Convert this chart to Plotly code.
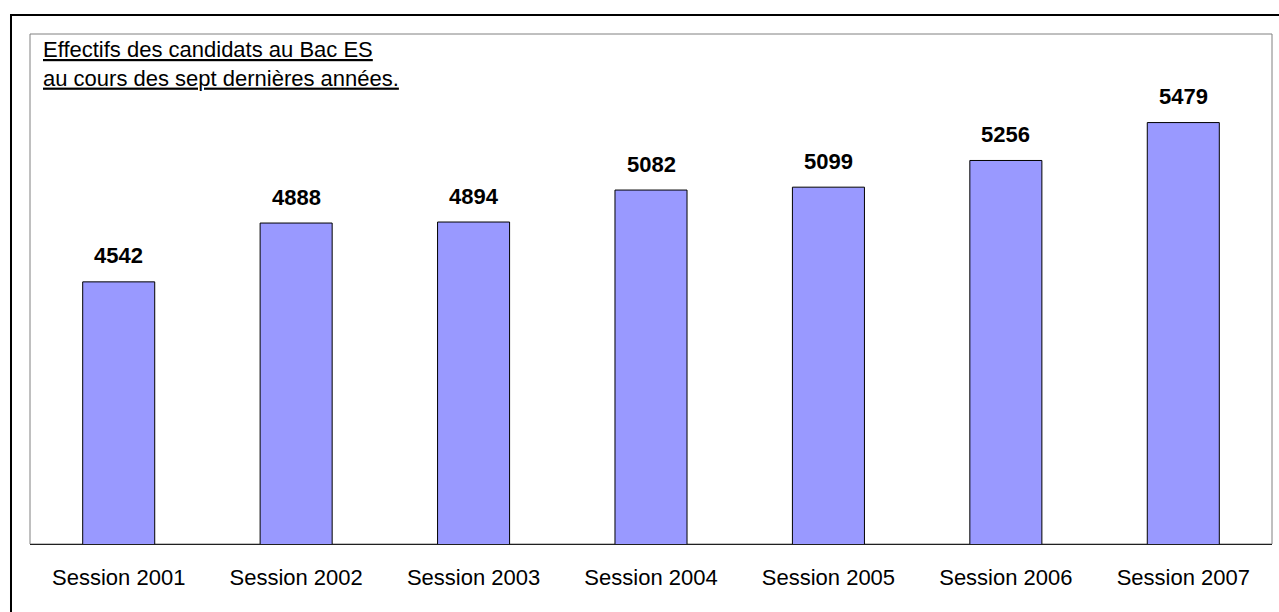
import plotly.graph_objects as go

# Données
sessions = ['Session 2001', 'Session 2002', 'Session 2003', 'Session 2004',
            'Session 2005', 'Session 2006', 'Session 2007']
effectifs = [4542, 4888, 4894, 5082, 5099, 5256, 5479]
titre = ['Effectifs des candidats au Bac ES', 'au cours des sept dernières années.']

police = 'Arial, Liberation Sans, sans-serif'

fig = go.Figure(go.Bar(
    x=sessions,
    y=effectifs,
    marker=dict(color='#9999FF', line=dict(color='black', width=1)),
    hoverinfo='x+y'
))

# Étiquettes de valeur au-dessus des barres
for s, v in zip(sessions, effectifs):
    fig.add_annotation(x=s, y=v, text='<b>%d</b>' % v, showarrow=False,
                       yanchor='middle', yshift=26,
                       font=dict(family=police, size=22, color='black'))

# Titre souligné dans le coin supérieur gauche
fig.add_annotation(xref='paper', yref='paper', x=0, y=1, xanchor='left', yanchor='top',
                   xshift=11, yshift=-1, align='left', showarrow=False,
                   text='<br>'.join('<u>%s</u>' % t for t in titre),
                   font=dict(family=police, size=22, color='black'))

# Cadre de la zone de tracé (gris) et cadre extérieur (noir)
fig.add_shape(type='rect', xref='x domain', yref='y domain', x0=0, x1=1, y0=0, y1=1,
              line=dict(color='#808080', width=1), layer='below')
fig.add_shape(type='rect', xref='paper', yref='paper', x0=-0.0153, x1=1.2, y0=-0.5, y1=1.0373,
              line=dict(color='black', width=2), layer='below')

fig.update_layout(
    width=1279, height=612,
    margin=dict(l=30, r=7, t=34, b=68),
    paper_bgcolor='white', plot_bgcolor='white',
    bargap=0.594,
    showlegend=False,
    font=dict(family=police, size=22, color='black'),
    xaxis=dict(showline=True, linecolor='#202020', linewidth=1, ticks='', showgrid=False,
               ticklabelstandoff=14, tickfont=dict(family=police, size=22, color='black')),
    yaxis=dict(range=[3000, 6000], visible=False, showgrid=False, zeroline=False),
)

# pas de marge autour du graphique dans la page
fig.write_html('out.html', config={'displayModeBar': False},
               post_script="document.body.style.margin='0';document.body.style.overflow='hidden';")
